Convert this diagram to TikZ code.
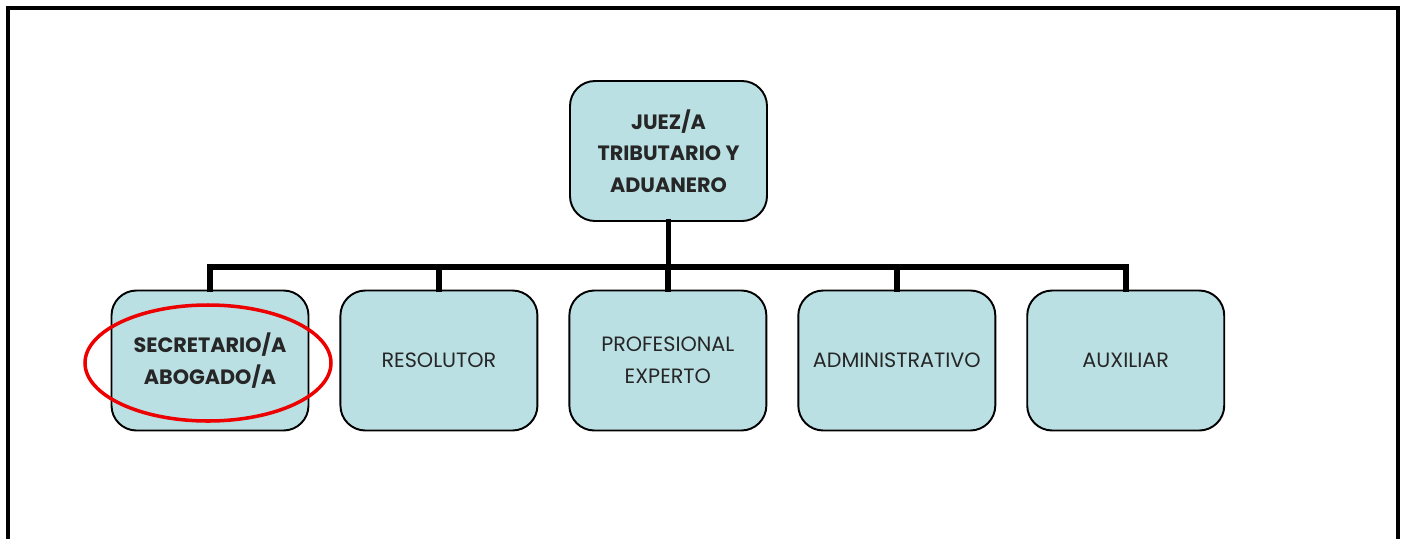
\documentclass[tikz,border=0pt]{standalone}
\usepackage{fontspec}
\setmainfont{Poppins}
\usepackage{xcolor}
\usepackage{tikz}
\usetikzlibrary{positioning}
\usetikzlibrary{shapes.geometric}

\definecolor{cajaazul}{RGB}{186,224,228}
\definecolor{rojomarca}{RGB}{236,0,0}

\tikzset{
    cargo/.style={draw=black, line width=1.1pt, fill=cajaazul, rounded corners=0.5cm,
        minimum width=3.94cm, minimum height=2.8cm, align=center,
        font=\fontsize{11.8}{18}\selectfont, text=black!85},
    jefe/.style={cargo, font=\fontsize{11.8}{18}\selectfont\bfseries},
    enlace/.style={line width=3.2pt, line cap=rect},
    marco/.style={line width=2.3pt, line join=miter}
}

\begin{document}
\begin{tikzpicture}[node distance=0.6cm]
    \useasboundingbox (0,0) rectangle (28.1,-10.76);
    \draw[marco] (0.16,-10.8) |- (27.96,-0.16) -- (27.96,-10.8);

    \node[jefe] (juez) at (13.37,-3.02) {JUEZ/A\\TRIBUTARIO Y\\ADUANERO};

    \node[jefe] (sec) at (4.2,-7.21) {SECRETARIO/A\\ABOGADO/A};
    \node[cargo, right=of sec] (res) {RESOLUTOR};
    \node[cargo, right=of res] (prof) {PROFESIONAL\\EXPERTO};
    \node[cargo, right=of prof] (adm) {ADMINISTRATIVO};
    \node[cargo, right=of adm] (aux) {AUXILIAR};

    \foreach \hijo in {sec, res, prof, adm, aux}
        \draw[enlace] (juez.south) -- ++(0,-0.9) -| (\hijo.north);

    \node[ellipse, draw=rojomarca, line width=2pt, minimum width=4.92cm,
        minimum height=2.32cm] (marca) at (4.16,-7.26) {};
\end{tikzpicture}
\end{document}
